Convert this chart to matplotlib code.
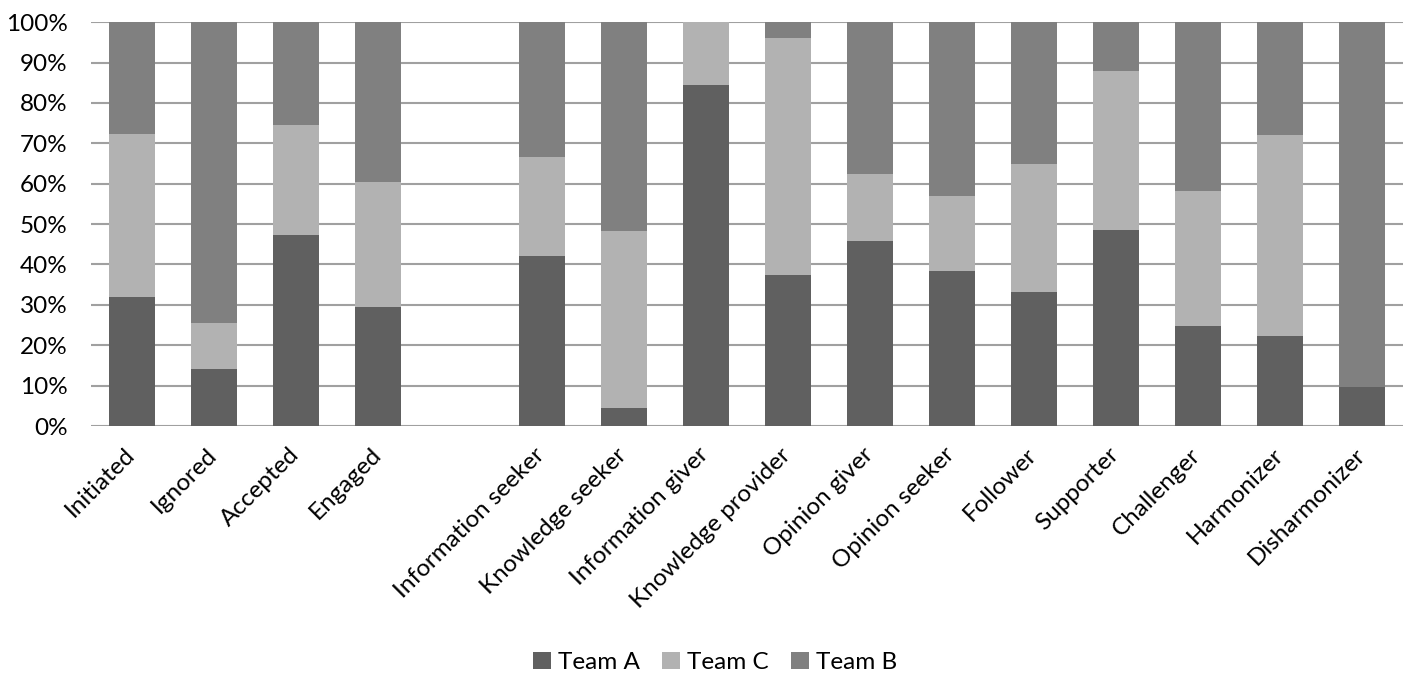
import numpy as np
import matplotlib
matplotlib.use("Agg")
import matplotlib.pyplot as plt
import matplotlib.transforms as mtransforms
from matplotlib.ticker import PercentFormatter

plt.rcParams['font.family'] = ['Lato', 'DejaVu Sans']

categories = ["Initiated", "Ignored", "Accepted", "Engaged", "",
              "Information seeker", "Knowledge seeker", "Information giver",
              "Knowledge provider", "Opinion giver", "Opinion seeker",
              "Follower", "Supporter", "Challenger", "Harmonizer", "Disharmonizer"]

# share of each team in percent (blank slot keeps the gap)
team_a = [32.0, 14.2, 47.3, 29.5, 0, 42.1, 4.5, 84.5, 37.4, 45.8, 38.5,
          33.3, 48.6, 24.8, 22.2, 9.7]
team_c = [40.2, 11.3, 27.2, 30.9, 0, 24.5, 43.7, 15.5, 58.6, 16.7, 18.4,
          31.6, 39.4, 33.4, 49.8, 0.0]
team_b = [27.8, 74.5, 25.5, 39.6, 0, 33.4, 51.8, 0.0, 4.0, 37.5, 43.1,
          35.1, 12.0, 41.8, 28.0, 90.3]

x = np.arange(len(categories))
a = np.array(team_a)
c = np.array(team_c)
b = np.array(team_b)

fig = plt.figure(figsize=(14.05, 6.73), dpi=100)
ax = fig.add_axes([0.0648, 0.367, 0.9338, 0.600])

w = 0.56
ax.bar(x, a, w, color="#606060", label="Team A", zorder=3)
ax.bar(x, c, w, bottom=a, color="#b2b2b2", label="Team C", zorder=3)
ax.bar(x, b, w, bottom=a + c, color="#808080", label="Team B", zorder=3)

ax.set_xlim(-0.5, len(categories) - 0.5)
ax.set_ylim(0, 100)
ax.set_yticks(np.arange(0, 101, 10))
ax.yaxis.set_major_formatter(PercentFormatter(decimals=0))
ax.grid(axis="y", color="#a0a0a0", linewidth=1.5, zorder=0)
ax.set_xticks(x)
ax.set_xticklabels(categories, rotation=45, ha="right", rotation_mode="anchor")
ax.tick_params(axis="both", length=0, labelsize=17.5)
ax.tick_params(axis="x", pad=13)
ax.tick_params(axis="y", pad=17)
for s in ax.spines.values():
    s.set_visible(False)

# nudge category labels a little to the left
shift = mtransforms.ScaledTranslation(-8 / 100, 0, fig.dpi_scale_trans)
for lab in ax.get_xticklabels():
    lab.set_transform(lab.get_transform() + shift)

fig.legend(loc="center", bbox_to_anchor=(0.509, 0.016), ncol=3, frameon=False,
           fontsize=17.5, handlelength=0.75, handleheight=0.75, handletextpad=0.3,
           columnspacing=0.9)

fig.savefig("out.png", dpi=100)
